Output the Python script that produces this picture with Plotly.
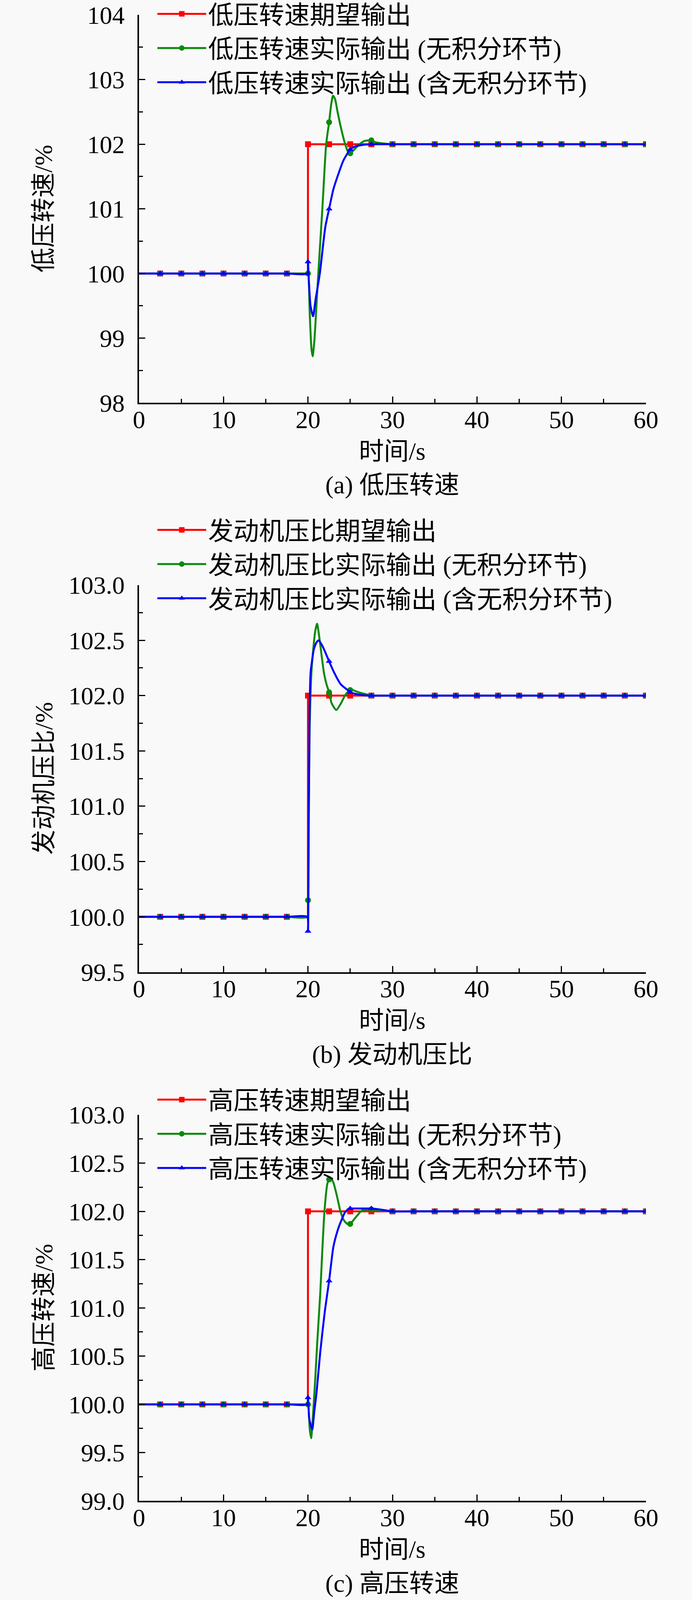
import plotly.graph_objects as go

W, H = 1772, 4294   # reference size; layout below is expressed as fractions of it

# ---------------- data ----------------
MARK_T = [2.5, 5, 7.5, 10, 12.5, 15, 17.5, 20, 22.5, 25, 27.5, 30, 32.5, 35, 37.5,
          40, 42.5, 45, 47.5, 50, 52.5, 55, 57.5, 60]

T_RED = [0, 2.5, 5, 7.5, 10, 12.5, 15, 17.5, 19.99, 20, 22.5, 25, 27.5, 30, 32.5, 35,
         37.5, 40, 42.5, 45, 47.5, 50, 52.5, 55, 57.5, 60]
V_RED = [100, 100, 100, 100, 100, 100, 100, 100, 100, 102, 102, 102, 102, 102, 102, 102,
         102, 102, 102, 102, 102, 102, 102, 102, 102, 102]

TAIL_T = [32.5, 35, 37.5, 40, 42.5, 45, 47.5, 50, 52.5, 55, 57.5, 60]
TAIL_V = [102, 102, 102, 102, 102, 102, 102, 102, 102, 102, 102, 102]
HEAD_T = [0, 2.5, 5, 7.5, 10, 12.5, 15, 17.5, 19.9]
HEAD_V = [100, 100, 100, 100, 100, 100, 100, 100, 100]

# (a) low-pressure spool speed
T1_GRN = HEAD_T + [20, 20.2, 20.4, 20.55, 20.75, 21.0, 21.22, 21.7, 22.15, 22.5, 22.75,
                   22.96, 23.2, 23.5, 24.0, 24.4, 24.75, 25, 25.5, 26.1, 26.7, 27.3,
                   27.5, 28.0, 29.0, 30] + TAIL_T
V1_GRN = HEAD_V + [100.0, 99.4, 98.85, 98.72, 98.95, 99.5, 100.0, 101.0, 102.0, 102.34,
                   102.62, 102.75, 102.7, 102.5, 102.2, 102.0, 101.88, 101.86, 101.92,
                   102.0, 102.05, 102.06, 102.06, 102.03, 102.01, 102.0] + TAIL_V
T1_BLU = HEAD_T + [20, 20.1, 20.3, 20.6, 20.9, 21.4, 22.05, 22.5, 23.0, 23.6, 24.2, 25,
                   25.5, 26.5, 27.5, 30] + TAIL_T
V1_BLU = HEAD_V + [100.18, 99.9, 99.5, 99.34, 99.6, 100.0, 100.72, 101.0, 101.3, 101.54,
                   101.75, 101.92, 101.96, 101.99, 102.0, 102.0] + TAIL_V

# (b) engine pressure ratio
T2_GRN = HEAD_T + [20, 20.1, 20.2, 20.4, 20.6, 20.85, 21.07, 21.3, 21.6, 21.9, 22.2,
                   22.5, 22.8, 23.35, 23.9, 24.37, 24.8, 25, 25.3, 26, 27, 27.5, 30] + TAIL_T
V2_GRN = HEAD_V + [100.15, 101.0, 101.7, 102.2, 102.4, 102.58, 102.65, 102.55, 102.37,
                   102.2, 102.1, 102.03, 101.93, 101.87, 101.93, 102.0, 102.04, 102.05,
                   102.05, 102.03, 102.01, 102.0, 102.0] + TAIL_V
T2_BLU = HEAD_T + [20, 20.1, 20.2, 20.3, 20.45, 20.7, 21.0, 21.27, 21.7, 22.0, 22.5,
                   23.15, 23.9, 24.7, 25, 26, 27, 27.5, 30] + TAIL_T
V2_BLU = HEAD_V + [99.87, 101.0, 101.9, 102.2, 102.3, 102.42, 102.48, 102.5, 102.45,
                   102.4, 102.31, 102.2, 102.1, 102.05, 102.03, 102.01, 102.0, 102.0,
                   102.0] + TAIL_V

# (c) high-pressure spool speed
T3_GRN = HEAD_T + [20, 20.2, 20.37, 20.6, 20.85, 21.1, 21.45, 21.7, 21.95, 22.3, 22.5,
                   22.65, 23.0, 23.45, 23.84, 24.3, 24.84, 25, 25.3, 25.76, 26.4, 27.3,
                   27.5, 28.5, 30] + TAIL_T
V3_GRN = HEAD_V + [100.0, 99.75, 99.65, 99.9, 100.25, 100.65, 101.15, 101.6, 102.0,
                   102.29, 102.33, 102.35, 102.3, 102.15, 102.0, 101.9, 101.86, 101.87,
                   101.9, 101.95, 102.01, 102.02, 102.02, 102.01, 102.0] + TAIL_V
T3_BLU = HEAD_T + [20, 20.15, 20.5, 20.75, 21.0, 21.45, 22.0, 22.5, 23.0, 23.5, 23.92,
                   24.38, 24.84, 25, 25.9, 27.3, 27.5, 28.5, 30] + TAIL_T
V3_BLU = HEAD_V + [100.07, 99.85, 99.74, 99.93, 100.11, 100.54, 100.97, 101.28, 101.63,
                   101.8, 101.9, 101.99, 102.03, 102.03, 102.03, 102.03, 102.03, 102.02,
                   102.0] + TAIL_V

NAMES = [
    ["低压转速期望输出", "低压转速实际输出 (无积分环节)", "低压转速实际输出 (含无积分环节)"],
    ["发动机压比期望输出", "发动机压比实际输出 (无积分环节)", "发动机压比实际输出 (含无积分环节)"],
    ["高压转速期望输出", "高压转速实际输出 (无积分环节)", "高压转速实际输出 (含无积分环节)"],
]
YTITLES = ["低压转速/%", "发动机压比/%", "高压转速/%"]
CAPTIONS = ["(a) 低压转速", "(b) 发动机压比", "(c) 高压转速"]
XTITLE = "时间/s"

YRANGES = [[98, 104], [99.5, 103], [99, 103]]
YDTICK = [1, 0.5, 0.5]
YFMT = ["d", ".1f", ".1f"]

PANELS = [
    [(T_RED, V_RED), (T1_GRN, V1_GRN), (T1_BLU, V1_BLU)],
    [(T_RED, V_RED), (T2_GRN, V2_GRN), (T2_BLU, V2_BLU)],
    [(T_RED, V_RED), (T3_GRN, V3_GRN), (T3_BLU, V3_BLU)],
]

# ---------------- styling / layout (reference pixels) ----------------
COLORS = ["#ff0000", "#0a8a0a", "#0000ff"]
SYMBOLS = ["square", "circle", "triangle-up"]
FONT = "Liberation Serif, Noto Sans CJK SC, serif"
BG = "#f9f9f9"

X_LEFT, X_RIGHT = 356, 1654
PLOT_TB = [(40, 1081), (1570, 2609), (2992, 4028)]
LEG_TOP = [-14, 1371, 2900]


def py(p):
    return 1 - p / H


def pxx(p):
    return p / W


fig = go.Figure()
annotations = []

for i, series in enumerate(PANELS):
    k = "" if i == 0 else str(i + 1)
    xa, ya = "x" + k, "y" + k
    leg = "legend" + k
    for j, (t, v) in enumerate(series):
        shape = "linear" if j == 0 else "spline"
        fig.add_trace(go.Scatter(x=t, y=v, mode="lines", xaxis=xa, yaxis=ya,
                                 line=dict(color=COLORS[j], width=5, shape=shape,
                                           smoothing=0.6),
                                 showlegend=False, hoverinfo="skip"))
        mt = [tt for tt in t if tt in MARK_T]
        mv = [vv for tt, vv in zip(t, v) if tt in MARK_T]
        fig.add_trace(go.Scatter(x=mt, y=mv, mode="markers", xaxis=xa, yaxis=ya,
                                 marker=dict(color=COLORS[j], symbol=SYMBOLS[j], size=15),
                                 showlegend=False, hoverinfo="skip"))
        fig.add_trace(go.Scatter(x=[None], y=[None], mode="lines+markers", xaxis=xa,
                                 yaxis=ya, name=NAMES[i][j], legend=leg,
                                 line=dict(color=COLORS[j], width=5),
                                 marker=dict(color=COLORS[j], symbol=SYMBOLS[j], size=14)))

    top, bot = PLOT_TB[i]
    axis_common = dict(showline=True, linewidth=4, linecolor="black", mirror=False,
                       showgrid=False, zeroline=False, ticks="inside", ticklen=16,
                       tickwidth=3, tickcolor="black",
                       tickfont=dict(family=FONT, size=64, color="black"))
    fig.layout["xaxis" + k] = dict(
        domain=[pxx(X_LEFT), pxx(X_RIGHT)], anchor=ya, range=[0, 60], dtick=10, tick0=0,
        minor=dict(dtick=5, ticks="inside", ticklen=10, tickwidth=3, tickcolor="black",
                   showgrid=False),
        ticklabelstandoff=-16, **axis_common)
    fig.layout["yaxis" + k] = dict(
        domain=[py(bot), py(top)], anchor=xa, range=YRANGES[i], dtick=YDTICK[i],
        tick0=YRANGES[i][0], tickformat=YFMT[i],
        minor=dict(dtick=YDTICK[i] / 2, ticks="inside", ticklen=10, tickwidth=3,
                   tickcolor="black", showgrid=False),
        ticklabelstandoff=20, **axis_common)
    fig.layout[leg] = dict(x=pxx(398), y=py(LEG_TOP[i]), xanchor="left", yanchor="top",
                           bgcolor="rgba(0,0,0,0)", borderwidth=0, itemwidth=125,
                           font=dict(family=FONT, size=65, color="black"),
                           tracegroupgap=0)

    annotations.append(dict(text=YTITLES[i], x=pxx(112), y=py((top + bot) / 2),
                            xref="paper", yref="paper", xanchor="center", yanchor="middle",
                            textangle=-90, showarrow=False,
                            font=dict(family=FONT, size=64, color="black")))
    annotations.append(dict(text=XTITLE, x=pxx((X_LEFT + X_RIGHT) / 2), y=py(bot + 130),
                            xref="paper", yref="paper", xanchor="center", yanchor="middle",
                            showarrow=False, font=dict(family=FONT, size=64, color="black")))
    annotations.append(dict(text=CAPTIONS[i], x=pxx((X_LEFT + X_RIGHT) / 2), y=py(bot + 221),
                            xref="paper", yref="paper", xanchor="center", yanchor="middle",
                            showarrow=False, font=dict(family=FONT, size=64, color="black")))

# The figure fills the browser viewport (which is nominally 1772x4294).
fig.update_layout(autosize=True,
                  margin=dict(l=0, r=0, t=0, b=0, autoexpand=False),
                  paper_bgcolor=BG, plot_bgcolor=BG,
                  font=dict(family=FONT, color="black"),
                  annotations=annotations)

fig.write_html(
    "out.html",
    default_width="100vw",
    default_height="100vh",
    config={"displayModeBar": False, "staticPlot": True},
    post_script=("document.documentElement.style.overflow='hidden';"
                 "document.body.style.overflow='hidden';"
                 "document.body.style.margin='0px';"
                 "document.body.style.background='" + BG + "';"),
)
